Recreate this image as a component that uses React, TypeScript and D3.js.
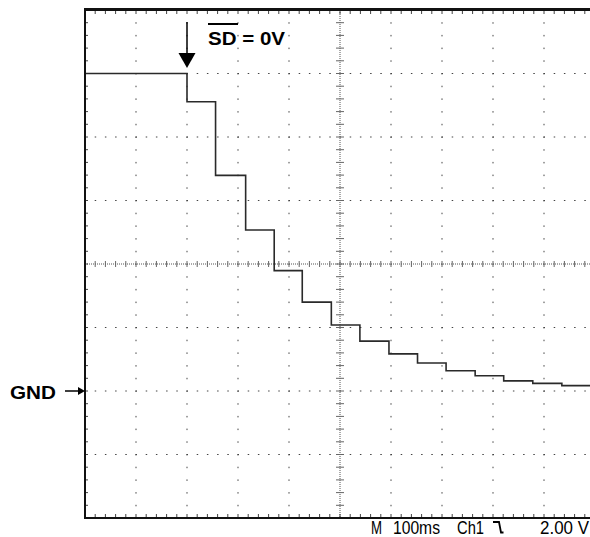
import React from 'react';
import * as d3 from 'd3';

// waveform: step start times (ms) and levels (V)
const stepTimes = [0, 200, 256, 315, 371, 426, 483, 539, 596, 652, 708, 765, 821, 878, 935, 1000];
const levels = [10.0, 9.11, 6.79, 5.07, 3.79, 2.8, 2.08, 1.57, 1.17, 0.88, 0.64, 0.48, 0.32, 0.24, 0.17, 0.17];

// scope settings
const timeDomain = [0, 1000];
const voltDomain = [-4, 12];
const timeDivs = d3.range(0, 1001, 100);
const voltDivs = d3.range(-4, 12.01, 2);
const gndLevel = 0;
const centerTime = 500;
const centerVolt = 4;

const W = 590;
const H = 537;
const left = 85;
const top = 10;
const plotW = 510;
const plotH = 508;

const x = d3.scaleLinear().domain(timeDomain).range([left, left + plotW]);
const y = d3.scaleLinear().domain(voltDomain).range([top + plotH, top]);

const minorT = d3.range(0, 1000.01, 20);
const minorV = d3.range(-4, 12.01, 0.4);

const font = 'Liberation Sans, Arial, sans-serif';

export default function App() {
  const pts: [number, number][] = stepTimes.map((t, i) => [t, levels[i]]);
  const line = d3
    .line<[number, number]>()
    .x((d) => x(d[0]))
    .y((d) => y(d[1]))
    .curve(d3.curveStepAfter);

  const dots: JSX.Element[] = [];
  // dotted gridlines (inner majors)
  timeDivs.slice(1, -1).forEach((t) => {
    if (t === centerTime) return;
    minorV.forEach((v, j) =>
      dots.push(<rect key={`vt${t}-${j}`} x={x(t) - 0.5} y={y(v) - 0.5} width={1} height={1.5} fill="#444" />)
    );
  });
  voltDivs.slice(1, -1).forEach((v) => {
    if (v === centerVolt) return;
    minorT.forEach((t, j) =>
      dots.push(<rect key={`hv${v}-${j}`} x={x(t) - 0.5} y={y(v) - 0.5} width={1.5} height={1} fill="#444" />)
    );
  });

  // center axes: fine dotted line + cross ticks
  const cx = x(centerTime);
  const cy = y(centerVolt);
  const sdX = x(200);

  return (
    <svg width={W} height={H} style={{ position: 'absolute', left: 0, top: 0, background: '#fff' }}>
      <defs>
        <clipPath id="plot">
          <rect x={left} y={top - 2} width={plotW} height={plotH + 4} />
        </clipPath>
      </defs>
      <g clipPath="url(#plot)">
        {dots}
        <line x1={left} x2={left + plotW} y1={cy} y2={cy} stroke="#555" strokeWidth={1} strokeDasharray="1 1" />
        <line x1={cx} x2={cx} y1={top} y2={top + plotH} stroke="#555" strokeWidth={1} strokeDasharray="1 1" />
        {minorT.map((t, i) => (
          <line key={`ct${i}`} x1={x(t)} x2={x(t)} y1={cy - 3} y2={cy + 3} stroke="#666" strokeWidth={1} />
        ))}
        {minorV.map((v, i) => (
          <line key={`cv${i}`} x1={cx - 4} x2={cx + 4} y1={y(v)} y2={y(v)} stroke="#666" strokeWidth={1} />
        ))}
        {/* edge ticks */}
        {minorT.map((t, i) => (
          <g key={`et${i}`}>
            <line x1={x(t)} x2={x(t)} y1={top} y2={top + 4} stroke="#444" strokeWidth={1} />
            <line x1={x(t)} x2={x(t)} y1={top + plotH - 4} y2={top + plotH} stroke="#444" strokeWidth={1} />
          </g>
        ))}
        {minorV.map((v, i) => (
          <line key={`ev${i}`} x1={left} x2={left + 3} y1={y(v)} y2={y(v)} stroke="#444" strokeWidth={1} />
        ))}
        <path d={line(pts) ?? ''} fill="none" stroke="#2a2a2a" strokeWidth={1.6} />
      </g>

      {/* frame */}
      <line x1={left} x2={W} y1={top - 0.5} y2={top - 0.5} stroke="#111" strokeWidth={3} />
      <line x1={left} x2={W} y1={top + plotH} y2={top + plotH} stroke="#111" strokeWidth={2} />
      <line x1={left} x2={left} y1={top - 2} y2={top + plotH + 1} stroke="#111" strokeWidth={2} />

      {/* shutdown marker */}
      <line x1={sdX} x2={sdX} y1={22} y2={55} stroke="#000" strokeWidth={1.5} />
      <polygon points={`${sdX - 8.5},53 ${sdX + 8.5},53 ${sdX},68`} fill="#000" />
      <line x1={208} x2={238} y1={24} y2={24} stroke="#000" strokeWidth={2} />
      <text x={208} y={44.5} fontFamily={font} fontWeight="bold" fontSize={18} fill="#000" textLength={77} lengthAdjust="spacingAndGlyphs">
        SD = 0V
      </text>

      {/* GND marker */}
      <text x={10} y={398.5} fontFamily={font} fontWeight="bold" fontSize={18.5} fill="#000" textLength={46} lengthAdjust="spacingAndGlyphs">
        GND
      </text>
      <line x1={65} x2={80} y1={y(gndLevel)} y2={y(gndLevel)} stroke="#000" strokeWidth={1.5} />
      <polygon points={`78,${y(gndLevel) - 4} ${left},${y(gndLevel)} 78,${y(gndLevel) + 4}`} fill="#000" />

      {/* scope readout */}
      <g fontFamily={font} fontSize={17.5} fill="#000">
        <text x={371} y={533.5} textLength={11} lengthAdjust="spacingAndGlyphs">M</text>
        <text x={393} y={533.5} textLength={47} lengthAdjust="spacingAndGlyphs">100ms</text>
        <text x={457} y={533.5} textLength={27} lengthAdjust="spacingAndGlyphs">Ch1</text>
        <text x={540} y={533.5} textLength={49} lengthAdjust="spacingAndGlyphs">2.00 V</text>
      </g>
      <path d="M493,522 H499 L501,532.5 H503.5" fill="none" stroke="#000" strokeWidth={1.8} />
    </svg>
  );
}
